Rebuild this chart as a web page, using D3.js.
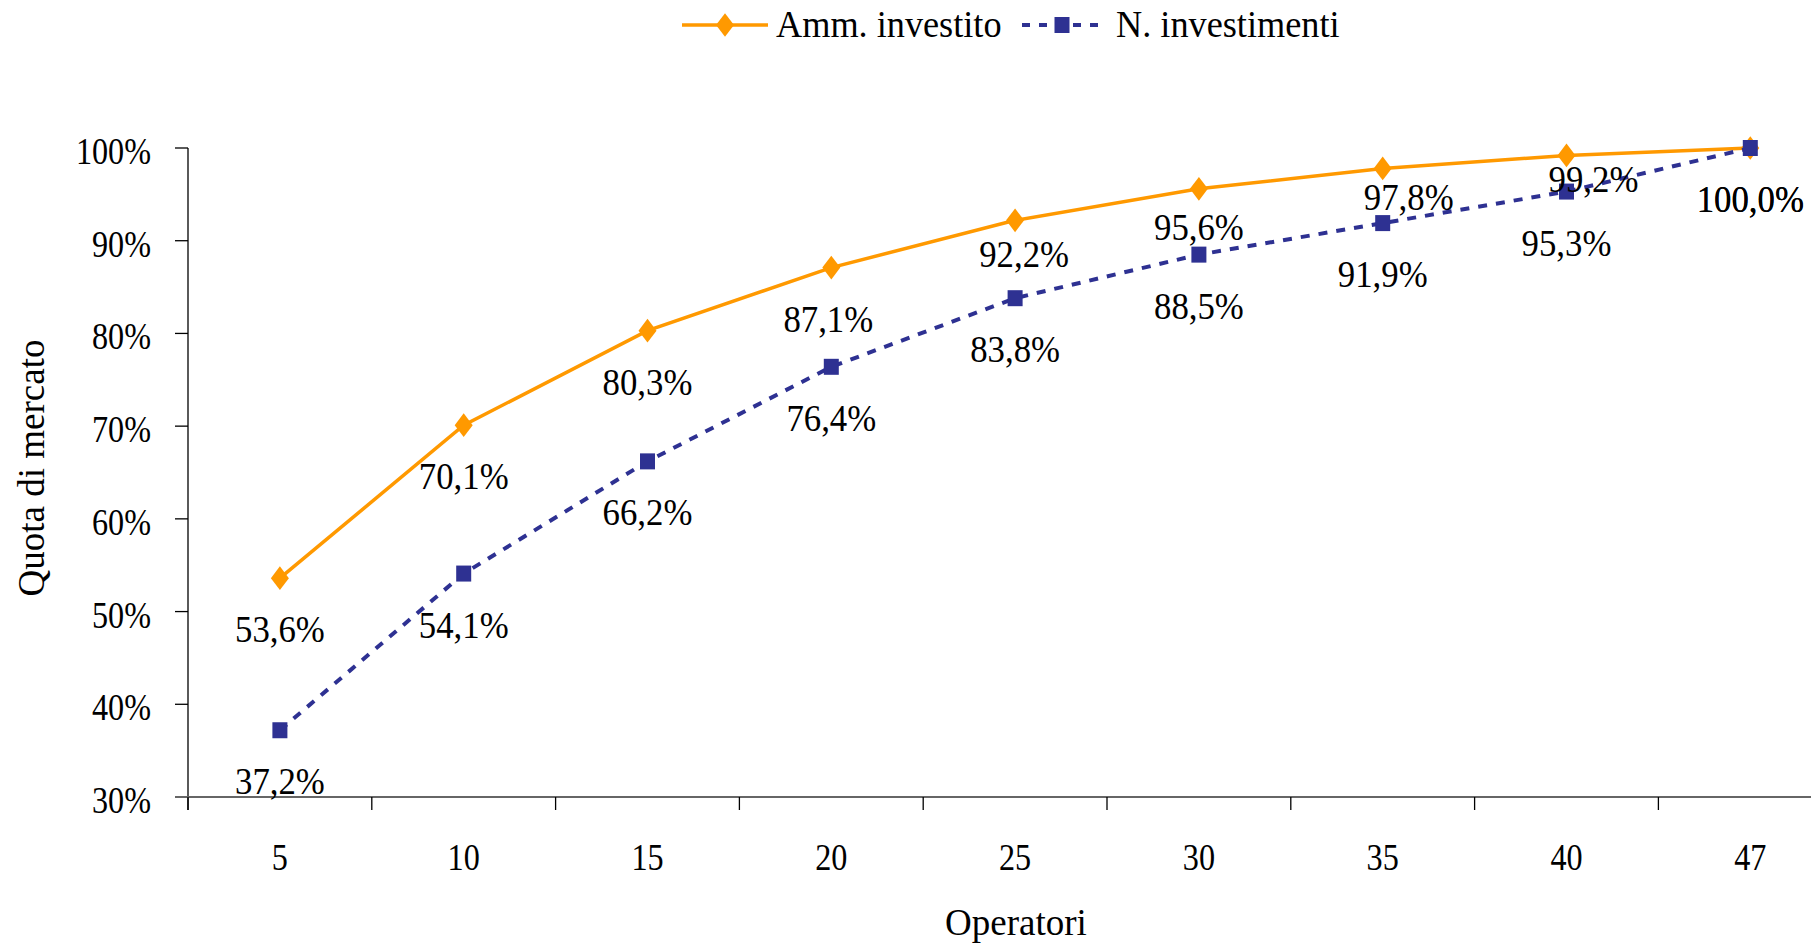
<!DOCTYPE html>
<html>
<head>
<meta charset="utf-8">
<script src="https://cdn.jsdelivr.net/npm/d3@7"></script>
<style>
  html, body { margin: 0; padding: 0; background: #fff; }
  svg { display: block; }
  text { font-family: "Liberation Serif", "Times New Roman", serif; fill: #000; }
</style>
</head>
<body>
<svg id="chart" width="1811" height="944"></svg>
<script>
const categories = ["5", "10", "15", "20", "25", "30", "35", "40", "47"];
const ammInvestito = [53.6, 70.1, 80.3, 87.1, 92.2, 95.6, 97.8, 99.2, 100.0];
const nInvestimenti = [37.2, 54.1, 66.2, 76.4, 83.8, 88.5, 91.9, 95.3, 100.0];
const yTicks = [30, 40, 50, 60, 70, 80, 90, 100];
const seriesNames = ["Amm. investito", "N. investimenti"];
const xTitle = "Operatori";
const yTitle = "Quota di mercato";
// manual label nudges (pixels) for the orange series, as placed in the original
const ammLabelDx = [0, 0, 0, -3, 9, 0, 26, 27, 0];
const ammLabelDy = [64, 64, 64, 64, 47, 51, 42, 37, 64];

(function () {
const W = 1811;
const left = 188, bandW = 183.8;
const plotTop = 148, plotBottom = 797;
const svg = d3.select("#chart");

const x = d3.scaleBand().domain(categories).range([left, left + bandW * categories.length]).padding(0);
const y = d3.scaleLinear().domain([30, 100]).range([plotBottom, plotTop]);
const cx = c => x(c) + x.bandwidth() / 2;
const fmt = v => v.toFixed(1).replace(".", ",") + "%";

function txt(g, tx, ty, str, size, sx, anchor) {
  return g.append("text")
    .attr("transform", `translate(${tx},${ty}) scale(${sx},1)`)
    .attr("text-anchor", anchor || "middle")
    .attr("font-size", size).text(str);
}

// Y axis
const yAxis = svg.append("g");
yAxis.append("line").attr("x1", left).attr("x2", left).attr("y1", plotTop).attr("y2", plotBottom + 13)
  .attr("stroke", "#000").attr("stroke-width", 1.3);
yAxis.selectAll("line.tick").data(yTicks).enter().append("line")
  .attr("x1", left - 13).attr("x2", left).attr("y1", d => y(d)).attr("y2", d => y(d))
  .attr("stroke", "#000").attr("stroke-width", 1.3);
yTicks.forEach(d => txt(yAxis, 151, y(d) + 16, d + "%", 37, 0.87, "end"));

// X axis
const xAxis = svg.append("g");
xAxis.append("line").attr("x1", left - 13).attr("x2", W).attr("y1", plotBottom).attr("y2", plotBottom)
  .attr("stroke", "#666").attr("stroke-width", 2);
const boundaries = categories.map(c => x(c)).concat([x(categories[categories.length - 1]) + x.bandwidth()]);
xAxis.selectAll("line.tick").data(boundaries).enter().append("line")
  .attr("x1", d => d).attr("x2", d => d).attr("y1", plotBottom).attr("y2", plotBottom + 13)
  .attr("stroke", "#000").attr("stroke-width", 1.3);
categories.forEach(c => txt(xAxis, cx(c), 870, c, 37, 0.87));

// Titles
txt(svg, 1016, 935, xTitle, 37, 1);
svg.append("text").attr("transform", "translate(44,468) rotate(-90)").attr("text-anchor", "middle")
  .attr("font-size", 37).text(yTitle);

const orange = "#FF9900", navy = "#2E3192";
const line = d3.line().x((d, i) => cx(categories[i])).y(d => y(d));

// Orange series
svg.append("path").datum(ammInvestito).attr("d", line).attr("fill", "none")
  .attr("stroke", orange).attr("stroke-width", 3.5);
const diamond = d3.symbol().type(d3.symbolDiamond).size(180);
svg.selectAll("path.dia").data(ammInvestito).enter().append("path")
  .attr("transform", (d, i) => `translate(${cx(categories[i])},${y(d)}) scale(1.25,0.95)`)
  .attr("d", diamond).attr("fill", orange);

// Navy series
svg.append("path").datum(nInvestimenti).attr("d", line).attr("fill", "none")
  .attr("stroke", navy).attr("stroke-width", 4).attr("stroke-dasharray", "9,9");
svg.selectAll("rect.sq").data(nInvestimenti).enter().append("rect")
  .attr("x", (d, i) => cx(categories[i]) - 7.5).attr("y", d => y(d) - 8)
  .attr("width", 15).attr("height", 16).attr("fill", navy);

// Labels
const lg1 = svg.append("g");
ammInvestito.forEach((d, i) => txt(lg1, cx(categories[i]) + ammLabelDx[i], y(d) + ammLabelDy[i], fmt(d), 37, 0.94));
nInvestimenti.forEach((d, i) => txt(lg1, cx(categories[i]), y(d) + 64, fmt(d), 37, 0.94));

// Legend
const ly = 25;
const lg = svg.append("g");
lg.append("line").attr("x1", 682).attr("x2", 768).attr("y1", ly).attr("y2", ly)
  .attr("stroke", orange).attr("stroke-width", 3.5);
lg.append("path").attr("transform", `translate(725,${ly}) scale(1.25,0.95)`).attr("d", diamond).attr("fill", orange);
txt(lg, 776, ly + 12, seriesNames[0], 37, 0.98, "start");
lg.append("line").attr("x1", 1022).attr("x2", 1103).attr("y1", ly).attr("y2", ly)
  .attr("stroke", navy).attr("stroke-width", 4).attr("stroke-dasharray", "8,9");
lg.append("rect").attr("x", 1062 - 7.5).attr("y", ly - 8).attr("width", 15).attr("height", 16).attr("fill", navy);
txt(lg, 1116, ly + 12, seriesNames[1], 37, 0.98, "start");
})();
</script>
</body>
</html>
